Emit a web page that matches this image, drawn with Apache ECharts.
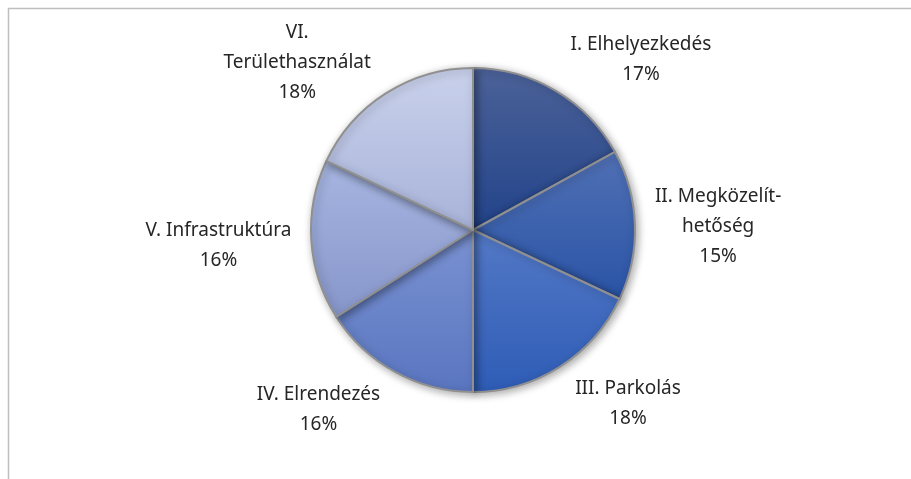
<!DOCTYPE html>
<html>
<head>
<meta charset="utf-8">
<script src="https://cdn.jsdelivr.net/npm/echarts@6/dist/echarts.min.js"></script>
<style>
  html, body { margin: 0; padding: 0; background: #fff; }
  #main { width: 911px; height: 479px; }
</style>
</head>
<body>
<div id="main"></div>
<script>
var names = ['I. Elhelyezkedés', 'II. Megközelít-\nhetőség', 'III. Parkolás', 'IV. Elrendezés', 'V. Infrastruktúra', 'VI.\nTerülethasználat'];
var values = [17, 15, 18, 16, 16, 18];
var topColors = ['#4c6298', '#5070b4', '#5479c6', '#7a92d2', '#a6b5e0', '#c9d1eb'];
var bottomColors = ['#22438a', '#2a54a6', '#2e5cb6', '#5a76c0', '#8796ca', '#a8b3d9'];

var cx = 473, cy = 230, R = 162;

var chart = echarts.init(document.getElementById('main'));

var total = values.reduce(function (a, b) { return a + b; }, 0);
var midAngles = [];
var acc = 0;
for (var i = 0; i < values.length; i++) {
  var span = values[i] / total * 360;
  midAngles.push(90 - acc - span / 2);
  acc += span;
}

var pieData = names.map(function (n, i) {
  return {
    name: n,
    value: values[i],
    itemStyle: {
      color: new echarts.graphic.LinearGradient(0, 0, 0, 1, [
        { offset: 0, color: topColors[i] },
        { offset: 1, color: bottomColors[i] }
      ])
    }
  };
});

var option = {
  animation: false,
  graphic: [{
    type: 'rect',
    shape: { x: 8.5, y: 8.5, width: 1000, height: 1000 },
    style: { fill: 'none', stroke: '#bfbfbf', lineWidth: 1.5 },
    silent: true
  }],
  series: [{
    type: 'pie',
    center: [cx, cy],
    radius: R,
    startAngle: 90,
    clockwise: true,
    data: pieData,
    itemStyle: {
      borderColor: '#909090',
      borderWidth: 2,
      shadowBlur: 8,
      shadowColor: 'rgba(0,0,0,0.35)',
      shadowOffsetX: 2,
      shadowOffsetY: 2
    },
    emphasis: { disabled: true },
    labelLine: { show: false },
    label: {
      show: true,
      position: 'outside',
      fontFamily: 'Noto Sans',
      fontSize: 19,
      lineHeight: 30,
      color: '#262626',
      align: 'center',
      formatter: function (p) {
        return p.name + '\n' + Math.round(p.percent) + '%';
      }
    },
    labelLayout: function (p) {
      var a = midAngles[p.dataIndex] * Math.PI / 180;
      var dx = Math.cos(a), dy = -Math.sin(a);
      var ax = cx + dx * (R + 10);
      var ay = cy + dy * (R + 10);
      var w = p.labelRect.width, h = p.labelRect.height;
      return {
        x: ax + (dx >= 0 ? 1 : -1) * (10 + w / 2),
        y: ay + dy * Math.min(h, 60) / 2 + 3,
        align: 'center',
        verticalAlign: 'middle'
      };
    }
  }]
};
chart.setOption(option);
</script>
</body>
</html>
